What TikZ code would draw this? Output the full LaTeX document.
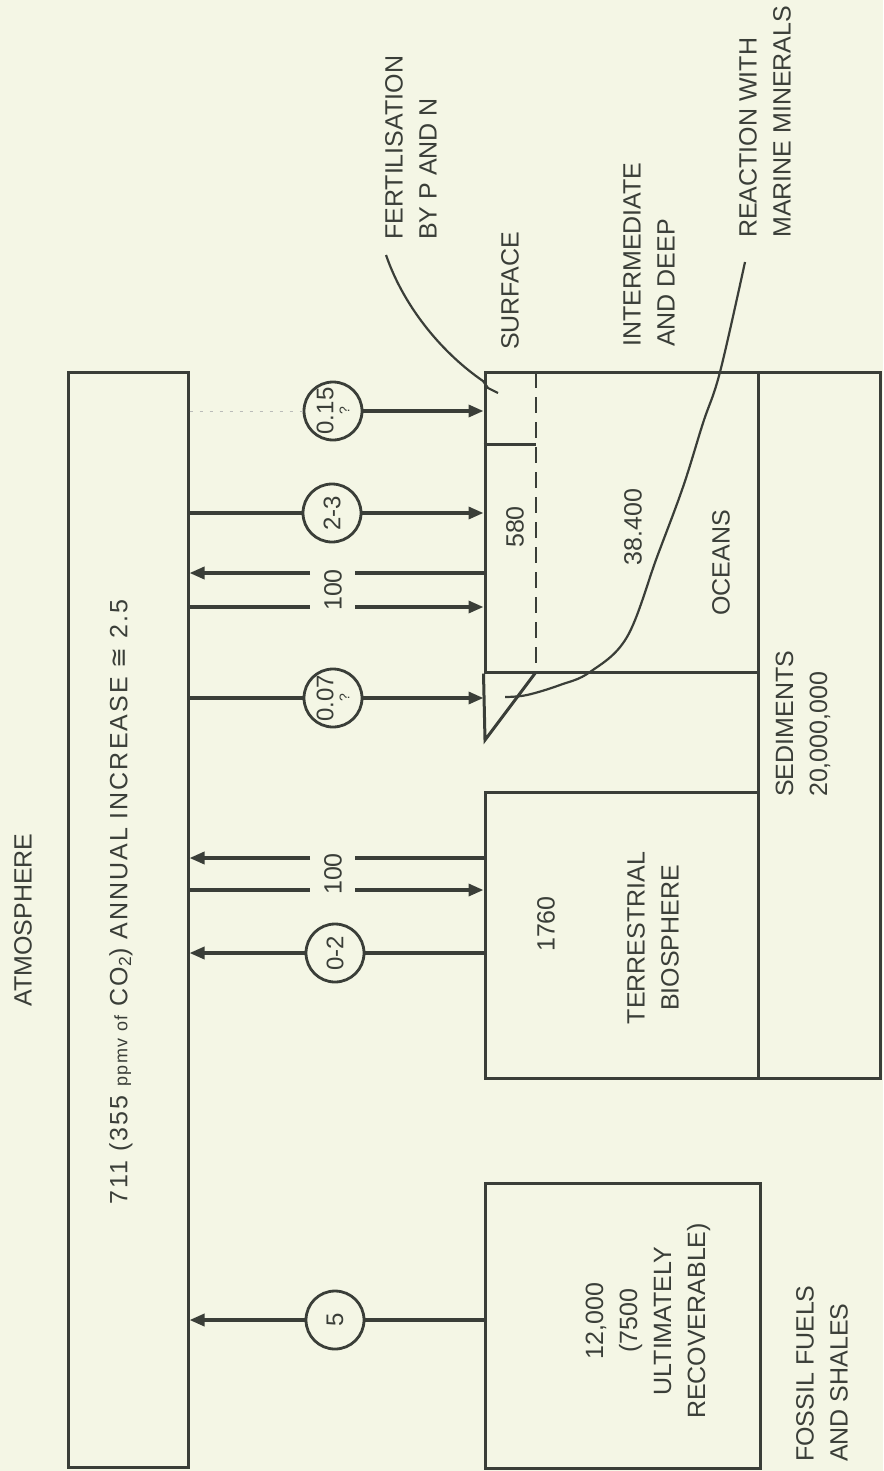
\documentclass[tikz,border=0pt]{standalone}
\usepackage{fontspec}
\setmainfont{Liberation Sans}
\newfontfamily\symfont{DejaVu Sans}
\usetikzlibrary{arrows.meta,shapes.geometric}
\definecolor{bg}{RGB}{244,246,229}
\definecolor{ink}{RGB}{58,62,56}
\begin{document}
\begin{tikzpicture}[x=1pt,y=-1pt,
  boxline/.style={draw=ink,line width=3pt},
  box/.style={boxline,rectangle,inner sep=0pt},
  flow/.style={draw=ink,line width=3.4pt},
  tip/.style={-{Triangle[length=15pt,width=12pt]}},
  faint/.style={draw=ink!35,line width=1pt,dash pattern=on 3pt off 7pt},
  lbl/.style={rotate=90,text=ink,font=\fontsize{25}{34}\selectfont,inner sep=0pt,align=center},
  circ/.style={draw=ink,line width=2.8pt,circle,minimum size=58pt,inner sep=0pt,rotate=90,text=ink,
    font=\fontsize{24}{24}\selectfont,align=center},
  thinline/.style={draw=ink,line width=2.2pt}]
\useasboundingbox[fill=bg] (0,0) rectangle (883,1471);

% boxes
\node[box,minimum width=120pt,minimum height=1095pt] (atm) at (128,919.5) {};
\node[box,minimum width=273pt,minimum height=300pt] (ocean) at (621.5,522) {};
\node[box,minimum width=122pt,minimum height=706pt] (sed) at (819,725) {};
\node[box,minimum width=273pt,minimum height=286pt] (terr) at (621.5,935) {};
\node[box,minimum width=275pt,minimum height=285pt] (fossil) at (622.5,1325.5) {};

% surface layer
\coordinate (surfT) at (536,372);
\coordinate (surfB) at (536,672);
\coordinate (surfM) at (536,444);
\coordinate (tri) at (485,740);
\draw[ink,line width=2.4pt,dash pattern=on 16pt off 9pt] (surfT) -- (surfB);
\draw[boxline] (surfM -| ocean.west) -- (surfM);
\draw[boxline] (ocean.south west) -- (tri) -- (surfB);

% reaction curve
\coordinate (rc) at (745,262);
\draw[thinline] plot[smooth,tension=0.6] coordinates {(rc) (720,372) (703,423) (683,487) (657,557) (627,637) (590,672) (560,685) (527,695) (505,697)};

% fertilisation leader
\coordinate (fl) at (386,255);
\coordinate (fe) at (483,381);
\draw[thinline] (fl) .. controls (405,310) and (445,355) .. (fe) -- (488,388) -- (498,393);

% labels
\node[lbl] (tAtm) at (23,920) {ATMOSPHERE};
\node[lbl] (tAtmV) at (121,902) {\addfontfeatures{LetterSpace=8}711 (355 {\fontsize{18}{20}\selectfont ppmv of} CO\textsubscript{2}) ANNUAL INCREASE {\symfont ≅} 2.5};
\node[lbl,anchor=west,align=left] (tFert) at (411,240) {FERTILISATION\\BY P AND N};
\node[lbl,anchor=west] (tSurf) at (510,350) {SURFACE};
\node[lbl,anchor=west,align=left] (tInt) at (649,347) {INTERMEDIATE\\AND DEEP};
\node[lbl,anchor=west,align=left] (tReac) at (765,238) {REACTION WITH\\MARINE MINERALS};
\node[lbl] (t580) at (515,527) {580};
\node[lbl] (t384) at (633,527) {38.400};
\node[lbl] (tOce) at (721,563) {OCEANS};
\node[lbl,anchor=west,align=left] (tSed) at (803,797) {SEDIMENTS\\20,000,000};
\node[lbl] (t1760) at (546,924) {1760};
\node[lbl] (tTerr) at (653,938) {TERRESTRIAL\\BIOSPHERE};
\node[lbl] (tFos) at (648,1321) {12,000\\(7500\\ULTIMATELY\\RECOVERABLE)};
\node[lbl,anchor=west,align=left] (tFosN) at (822,1462) {FOSSIL FUELS\\AND SHALES};

% flows to ocean
\node[circ] (c015) at (333,411) {0.15\\[-8pt]{\fontsize{14}{14}\selectfont ?}};
\draw[faint] (atm.east |- c015) -- (c015);
\draw[flow,tip] (c015) -- (c015 -| ocean.west);

\node[circ] (c23) at (332,513) {2-3};
\draw[flow] (atm.east |- c23) -- (c23);
\draw[flow,tip] (c23) -- (c23 -| ocean.west);

\node[lbl] (l100o) at (333,590) {100};
\coordinate (g1a) at (310,573);
\coordinate (g1b) at (355,573);
\coordinate (g2a) at (310,607);
\coordinate (g2b) at (355,607);
\draw[flow] (g1b -| ocean.west) -- (g1b);
\draw[flow,tip] (g1a) -- (g1a -| atm.east);
\draw[flow] (atm.east |- g2a) -- (g2a);
\draw[flow,tip] (g2b) -- (g2b -| ocean.west);

\node[circ] (c007) at (333,698) {0.07\\[-8pt]{\fontsize{14}{14}\selectfont ?}};
\draw[flow] (atm.east |- c007) -- (c007);
\draw[flow,tip] (c007) -- (c007 -| ocean.west);

% flows with terrestrial biosphere
\node[lbl] (l100t) at (333,874) {100};
\coordinate (g3a) at (310,858);
\coordinate (g3b) at (355,858);
\coordinate (g4a) at (310,890);
\coordinate (g4b) at (355,890);
\draw[flow] (terr.west |- g3b) -- (g3b);
\draw[flow,tip] (g3a) -- (g3a -| atm.east);
\draw[flow] (atm.east |- g4a) -- (g4a);
\draw[flow,tip] (g4b) -- (g4b -| terr.west);

\node[circ] (c02) at (335,953) {0-2};
\draw[flow] (terr.west |- c02) -- (c02);
\draw[flow,tip] (c02) -- (c02 -| atm.east);

% fossil fuels
\node[circ] (c5) at (335,1320) {5};
\draw[flow] (fossil.west |- c5) -- (c5);
\draw[flow,tip] (c5) -- (c5 -| atm.east);
\end{tikzpicture}
\end{document}
